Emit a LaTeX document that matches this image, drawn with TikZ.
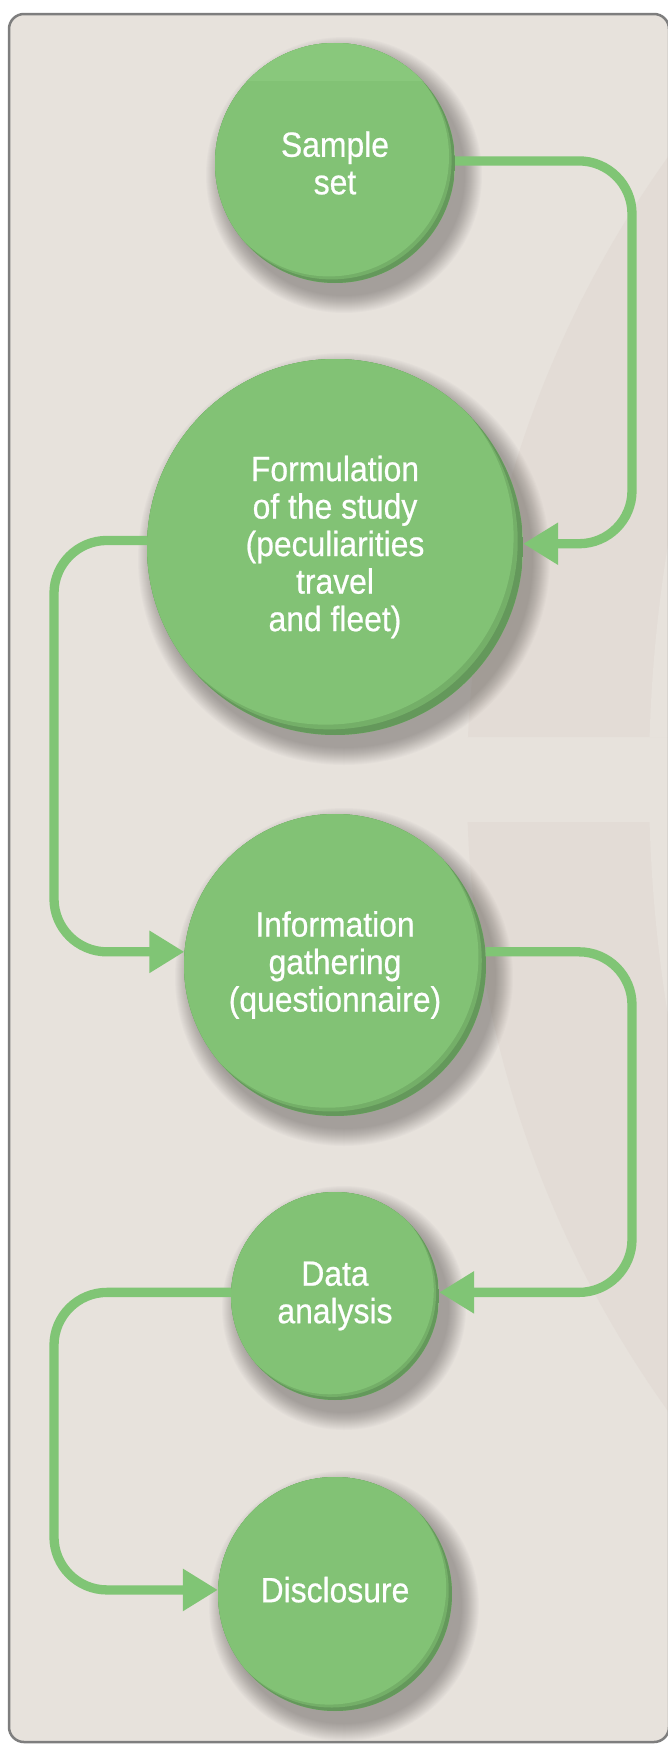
\documentclass[tikz,border=0pt]{standalone}
\usepackage{fontspec}
\setmainfont{Liberation Sans}[FakeStretch=0.91,FakeBold=0.6]
\usetikzlibrary{arrows.meta,calc}
\definecolor{bg}{HTML}{E7E2DC}
\definecolor{tint}{HTML}{E3DCD6}
\definecolor{gfill}{HTML}{82C275}
\definecolor{gmid}{HTML}{74AF68}
\definecolor{grim}{HTML}{64985B}
\definecolor{gline}{HTML}{80C575}
\definecolor{gtop}{HTML}{89C87C}
\definecolor{framec}{HTML}{7E7E7E}
\definecolor{shadowc}{HTML}{3A3532}
\tikzset{
  stage/.style={circle, inner sep=0pt, minimum size={2*#1*1bp}, fill=gfill,
    text=white, align=center, font=\fontsize{35bp}{37.5bp}\selectfont,
    path picture={
      \fill[grim] (path picture bounding box.south west) rectangle (path picture bounding box.north east);
      \fill[gmid] ($(path picture bounding box.center)+({-0.028*#1*1bp},{0.03*#1*1bp})$) circle ({#1*1bp});
      \fill[gfill] ($(path picture bounding box.center)+({-0.05*#1*1bp},{0.055*#1*1bp})$) circle ({#1*1bp});
    }},
  conn/.style={draw=gline, line width=9.3bp, rounded corners=53bp,
    -{Triangle[length=35bp,width=40bp]}},
}
\begin{document}
\begin{tikzpicture}[x=1bp,y=-1bp]
\useasboundingbox (0,0) rectangle (668,1744);
\fill[white] (0,0) rectangle (668,1744);
\fill[bg, rounded corners=15bp] (9,14) rectangle (669,1742);
\begin{scope}
  \clip (9,14) rectangle (668,737) (9,822) rectangle (668,1742);
  \fill[tint] (1545,784) circle (1078bp);
  \fill[bg] (2099,780) circle (1450bp);
\end{scope}
% soft shadows
\foreach \cx/\cy/\r in {335/163/120, 335/547/188, 335/965/151, 335/1296/104, 335/1594/117} {
  \foreach \i in {0,...,17}
    \fill[shadowc, opacity=0.025] (\cx+9,\cy+12) circle ({(\r+18-\i)*1bp});
}
% stages
\node[stage=120] (s1) at (335,163) {Sample\\set};
\node[stage=188] (s2) at (335,547) {Formulation\\of the study\\(peculiarities\\travel\\and fleet)};
\node[stage=151] (s3) at (335,965) {Information\\gathering\\(questionnaire)};
\node[stage=104] (s4) at (335,1296) {Data\\analysis};
\node[stage=117, text depth=9bp] (s5) at (335,1594) {Disclosure};
\begin{scope}
  \clip (335,163) circle (120bp);
  \fill[gtop] (200,30) rectangle (470,81);
\end{scope}
% connectors
\coordinate (rx) at (632,0);
\coordinate (lx) at (54,0);
\draw[conn] (s1.1) -| (rx |- s2.1) -- (s2.1);
\draw[conn] (s2.178) -| (lx |- s3.175) -- (s3.175);
\draw[conn] (s3.5) -| (rx |- s4.2) -- (s4.2);
\draw[conn] (s4.178) -| (lx |- s5.178) -- (s5.178);
% frame
\draw[framec, line width=2.5bp, rounded corners=15bp] (9,14) rectangle (669,1742);
\end{tikzpicture}
\end{document}
